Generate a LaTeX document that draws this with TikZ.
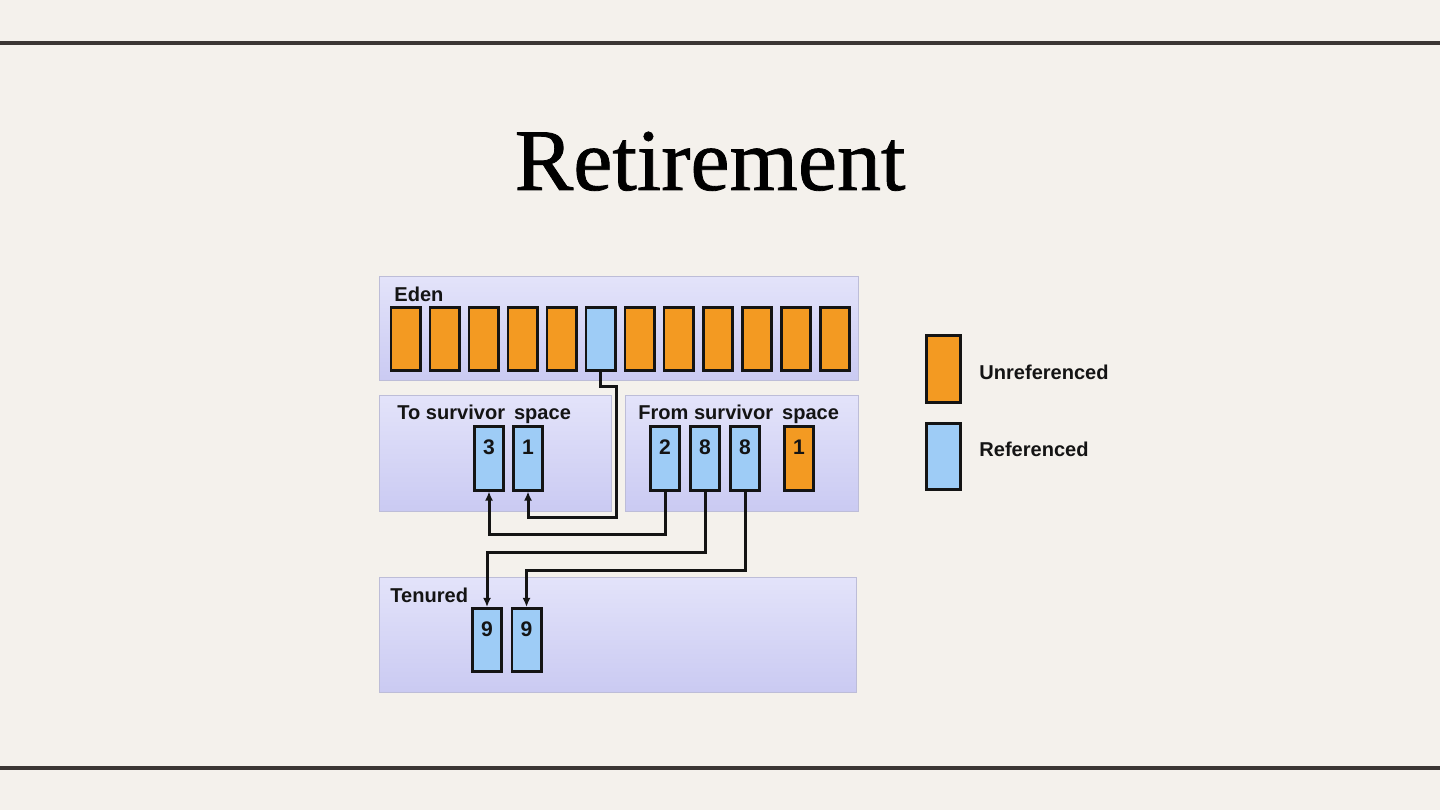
\documentclass[tikz,border=0pt]{standalone}
\usepackage{fontspec}
\setmainfont{Liberation Serif}
\setsansfont{Liberation Sans}
\newfontfamily\titlefont{Liberation Serif}[FakeBold=0.9]
\usepackage{xcolor}
\definecolor{paper}{HTML}{F4F1EC}
\definecolor{rule}{HTML}{3B3634}
\definecolor{ink}{HTML}{141414}
\definecolor{unref}{HTML}{F39A22}
\definecolor{ref}{HTML}{9ECCF6}
\definecolor{lavtop}{HTML}{E3E3FA}
\definecolor{lavbot}{HTML}{CACAF2}
\definecolor{frame}{HTML}{BDBDD8}
\usepackage{tikz}
\usetikzlibrary{arrows.meta,positioning}
\tikzset{
  every picture/.style={line width=0.8pt},
  region/.style={draw=frame, line width=0.3pt, top color=lavtop, bottom color=lavbot, anchor=north west, inner sep=0pt},
  cell/.style={draw=ink, line width=0.85pt, fill=#1, minimum width=0.29cm, minimum height=0.63cm,
    inner sep=0pt, text height=0.28cm, text depth=0.35cm, font=\sffamily\bfseries\fontsize{6}{7}\selectfont, text=ink},
  cell/.default=unref,
  keycell/.style={cell=#1, minimum width=0.34cm, minimum height=0.66cm, text height=0pt, text depth=0pt},
  tag/.style={font=\sffamily\bfseries\fontsize{5.7}{7}\selectfont, text=ink, inner sep=0pt, anchor=base west},
  move/.style={draw=ink, line width=0.85pt, -{Latex[length=0.9mm,width=0.8mm]}},
}

\begin{document}
\begin{tikzpicture}[x=0.01cm, y=-0.01cm]
  \useasboundingbox[fill=paper] (0,0) rectangle (1440,810);
  \draw[rule, line width=1.15pt] (0,43) -- (1440,43);
  \draw[rule, line width=1.15pt] (0,768) -- (1440,768);
  \node[anchor=base, font=\titlefont\fontsize{25}{30}\selectfont] (title) at (710,190) {Retirement};

  % heap regions
  \node[region, minimum width=4.79cm, minimum height=1.04cm] (eden) at (379,276) {};
  \node[region, minimum width=2.32cm, minimum height=1.16cm] (to) at (379,395) {};
  \node[region, minimum width=2.33cm, minimum height=1.16cm] (from) at (625,395) {};
  \node[region, minimum width=4.77cm, minimum height=1.15cm] (tenured) at (379,577) {};
  \node[tag] (edenlbl) at (393,302) {Eden};
  \node[tag] (tolbl) at (396,420) {To survivor\hspace{0.45em}space};
  \node[tag] (fromlbl) at (637,420) {From survivor\hspace{0.45em}space};
  \node[tag] (tenlbl) at (389,602) {Tenured};

  % objects
  \foreach \i/\c in {1/unref,2/unref,3/unref,4/unref,5/unref,6/ref,7/unref,8/unref,9/unref,10/unref,11/unref,12/unref}
    \node[cell=\c] (e\i) at ({405.5+(\i-1)*39},339) {};
  \node[cell=ref] (t3) at (489,458.5) {3};
  \node[cell=ref] (t1) at (528,458.5) {1};
  \node[cell=ref] (f2) at (665,458.5) {2};
  \node[cell=ref] (f8a) at (705,458.5) {8};
  \node[cell=ref] (f8b) at (745,458.5) {8};
  \node[cell=unref] (f1) at (799,458.5) {1};
  \node[cell=ref] (n9a) at (487,640) {9};
  \node[cell=ref] (n9b) at (526.5,640) {9};

  % copies
  \draw[move] (e6.south) -- ++(0,14) -- ++(15.5,0) -- ++(0,131.5) -| (t1.south);
  \draw[move] (f2.south) -- ++(0,43) -| (t3.south);
  \draw[move] (f8a.south) -- ++(0,61) -| (n9a.north);
  \draw[move] (f8b.south) -- ++(0,79) -| (n9b.north);

  % legend
  \node[keycell=unref] (kunref) at (943,369) {};
  \node[keycell=ref] (kref) at (943,456.5) {};
  \node[tag] (unreflbl) at (978,380) {Unreferenced};
  \node[tag] (reflbl) at (978,457) {Referenced};
\end{tikzpicture}
\end{document}
